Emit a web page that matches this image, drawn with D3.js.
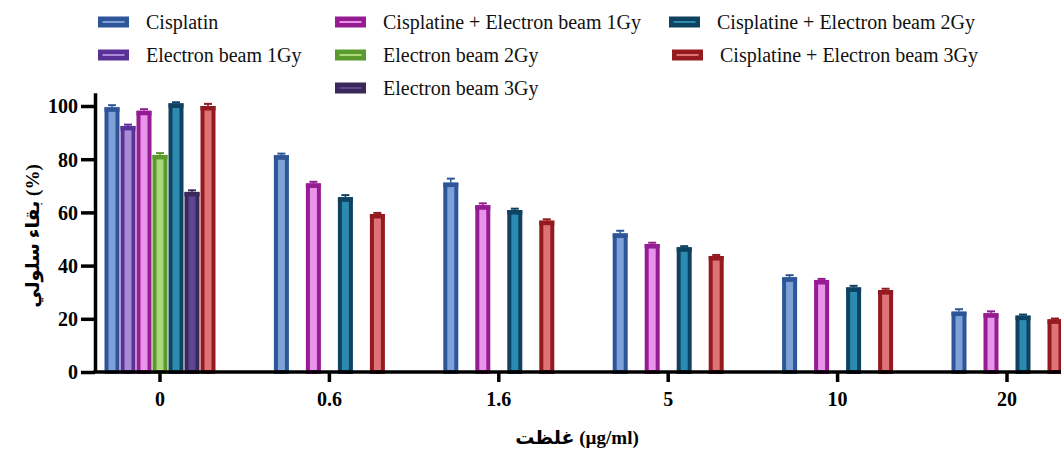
<!DOCTYPE html>
<html>
<head>
<meta charset="utf-8">
<script src="https://cdn.jsdelivr.net/npm/d3@7"></script>
<style>
  body { margin: 0; background: #fff; }
  svg { display: block; font-family: "Liberation Serif", "Times New Roman", serif; }
</style>
</head>
<body>
<script>
// concentrations (x categories)
const categories = ["0", "0.6", "1.6", "5", "10", "20"];

// series names, in bar order within a group
const seriesNames = [
  "Cisplatin",
  "Electron beam 1Gy",
  "Cisplatine + Electron beam 1Gy",
  "Electron beam 2Gy",
  "Cisplatine + Electron beam 2Gy",
  "Electron beam 3Gy",
  "Cisplatine + Electron beam 3Gy"
];

// survival (%) per series, one per category (null = no bar)
const cisplatin   = [99.5, 81.5, 71.2, 52.1, 35.6, 22.7];
const eb1         = [92.5, null, null, null, null, null];
const cisEb1      = [98.2, 70.9, 62.7, 48.1, 34.6, 22.1];
const eb2         = [81.6, null, null, null, null, null];
const cisEb2      = [101.0, 65.7, 60.9, 46.9, 31.8, 21.2];
const eb3         = [67.7, null, null, null, null, null];
const cisEb3      = [100.0, 59.4, 56.9, 43.6, 30.8, 19.8];

// error (SD)
const cisplatinErr = [0.8, 0.6, 1.5, 1.0, 0.8, 0.9];
const eb1Err       = [0.5, null, null, null, null, null];
const cisEb1Err    = [0.6, 0.6, 0.7, 0.5, 0.4, 0.7];
const eb2Err       = [0.7, null, null, null, null, null];
const cisEb2Err    = [0.4, 0.8, 0.5, 0.4, 0.6, 0.4];
const eb3Err       = [0.6, null, null, null, null, null];
const cisEb3Err    = [0.8, 0.4, 0.5, 0.4, 0.5, 0.3];

const yTicks = [0, 20, 40, 60, 80, 100];

const strokeColors = ["#2d5597", "#5a3297", "#951c92", "#5a9a2e", "#0f4261", "#3a2858", "#951a20"];
const fillColors   = ["#7ea1d8", "#a78bd6", "#ea93ea", "#acd87a", "#2b8ab0", "#5e4690", "#de7376"];

const values = [cisplatin, eb1, cisEb1, eb2, cisEb2, eb3, cisEb3];
const errors = [cisplatinErr, eb1Err, cisEb1Err, eb2Err, cisEb2Err, eb3Err, cisEb3Err];

const W = 1061, H = 450;
const svg = d3.select("body").append("svg").attr("width", W).attr("height", H);

const x0 = d3.scaleBand().domain(categories).range([75.3, 75.3 + 169.4 * 6]).padding(0);
const x1 = d3.scaleBand().domain(d3.range(7)).range([0, 112]).padding(0);
const y = d3.scaleLinear().domain([0, 105]).range([372, 92.7]);

const bars = [];
categories.forEach(function(c, ci) {
  values.forEach(function(s, si) {
    if (s[ci] != null) bars.push({cat: c, si: si, v: s[ci], e: errors[si][ci]});
  });
});

const groupOff = (x0.bandwidth() - 112) / 2;
const barW = 15;

const g = svg.append("g");
const bg = g.selectAll("g.bar").data(bars).enter().append("g").attr("class", "bar")
  .attr("transform", d => "translate(" + (x0(d.cat) + groupOff + x1(d.si) + 0.5) + ",0)");

// error bars
bg.append("line")
  .attr("x1", barW / 2).attr("x2", barW / 2)
  .attr("y1", d => y(d.v)).attr("y2", d => y(d.v + d.e))
  .attr("stroke", d => strokeColors[d.si]).attr("stroke-width", 1.5);
bg.append("line")
  .attr("x1", barW / 2 - 4).attr("x2", barW / 2 + 4)
  .attr("y1", d => y(d.v + d.e)).attr("y2", d => y(d.v + d.e))
  .attr("stroke", d => strokeColors[d.si]).attr("stroke-width", 2);

bg.append("rect")
  .attr("x", 2).attr("width", barW - 4)
  .attr("y", d => y(d.v) + 2).attr("height", d => y(0) - y(d.v) - 2)
  .attr("fill", d => fillColors[d.si])
  .attr("stroke", d => strokeColors[d.si]).attr("stroke-width", 4);
// thicker top cap
bg.append("rect")
  .attr("x", 0).attr("width", barW)
  .attr("y", d => y(d.v)).attr("height", 4.5)
  .attr("fill", d => strokeColors[d.si]);

// y axis
const yAxis = svg.append("g").attr("transform", "translate(95,0)")
  .call(d3.axisLeft(y).tickValues(yTicks).tickSize(14).tickPadding(3).tickSizeOuter(0));
yAxis.select(".domain").attr("stroke", "#000").attr("stroke-width", 3.5);
yAxis.selectAll(".tick line").attr("stroke", "#000").attr("stroke-width", 3.5);
yAxis.selectAll(".tick text").attr("font-family", "Liberation Serif").attr("font-size", 20)
  .attr("font-weight", "bold").attr("fill", "#000").attr("dy", "0.34em");

// x axis
const xAxis = svg.append("g").attr("transform", "translate(0,372)")
  .call(d3.axisBottom(x0).tickSize(10).tickPadding(10).tickSizeOuter(0));
xAxis.select(".domain").attr("d", "M93.3,0H" + (W + 10)).attr("stroke", "#000").attr("stroke-width", 3.5);
xAxis.selectAll(".tick line").attr("stroke", "#000").attr("stroke-width", 3.5);
xAxis.selectAll(".tick text").attr("font-family", "Liberation Serif").attr("font-size", 20)
  .attr("font-weight", "bold").attr("fill", "#000");

// axis titles
svg.append("text")
  .attr("transform", "translate(39,236) rotate(-90)")
  .attr("text-anchor", "middle")
  .attr("font-family", "Liberation Serif, DejaVu Sans").attr("font-size", 19).attr("font-weight", "bold")
  .text("بقاء سلولي (%)");

svg.append("text")
  .attr("x", 577).attr("y", 444)
  .attr("text-anchor", "middle")
  .attr("font-family", "Liberation Serif, DejaVu Sans").attr("font-size", 19).attr("font-weight", "bold")
  .text("غلظت (µg/ml)");

// legend
const legendPos = [
  {x: 98, y: 22}, {x: 98, y: 55},
  {x: 335, y: 22}, {x: 335, y: 55},
  {x: 669, y: 22}, {x: 335, y: 88}, {x: 672, y: 55}
];
const lg = svg.selectAll("g.legend").data(seriesNames).enter().append("g").attr("class", "legend")
  .attr("transform", (d, i) => "translate(" + legendPos[i].x + "," + legendPos[i].y + ")");
lg.append("rect").attr("x", 2.25).attr("y", -3.25).attr("width", 26.5).attr("height", 6.5)
  .attr("fill", (d, i) => fillColors[i]).attr("stroke", (d, i) => strokeColors[i]).attr("stroke-width", 4.5);
lg.append("text").attr("x", 48).attr("dy", "0.33em")
  .attr("font-size", 20).attr("fill", "#111")
  .text(d => d);
</script>
</body>
</html>
